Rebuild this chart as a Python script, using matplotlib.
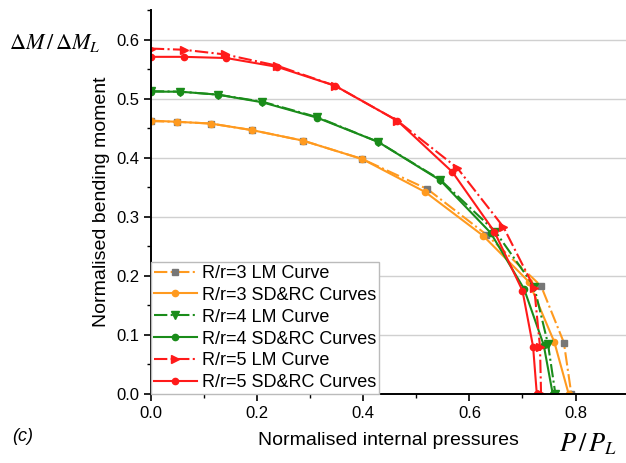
import matplotlib
matplotlib.use('Agg')
import matplotlib.pyplot as plt
from matplotlib.ticker import MultipleLocator

plt.rcParams['font.family'] = ['Liberation Sans', 'DejaVu Sans']
plt.rcParams['mathtext.fontset'] = 'stix'

# R/r = 3
r3_lm_x = [0.0, 0.049, 0.113, 0.19, 0.287, 0.398, 0.521, 0.632, 0.735, 0.778, 0.792]
r3_lm_y = [0.462, 0.461, 0.458, 0.447, 0.429, 0.398, 0.347, 0.27, 0.183, 0.087, 0.0]
r3_sd_x = [0.0, 0.049, 0.113, 0.19, 0.287, 0.398, 0.517, 0.626, 0.712, 0.76, 0.787]
r3_sd_y = [0.463, 0.461, 0.458, 0.447, 0.429, 0.398, 0.342, 0.268, 0.19, 0.088, 0.0]

# R/r = 4
r4_lm_x = [0.0, 0.055, 0.126, 0.21, 0.313, 0.428, 0.545, 0.649, 0.722, 0.748, 0.762]
r4_lm_y = [0.513, 0.512, 0.507, 0.495, 0.469, 0.427, 0.363, 0.275, 0.182, 0.085, 0.0]
r4_sd_x = [0.0, 0.055, 0.126, 0.21, 0.313, 0.428, 0.545, 0.64, 0.703, 0.74, 0.757]
r4_sd_y = [0.512, 0.512, 0.507, 0.494, 0.468, 0.427, 0.362, 0.273, 0.178, 0.083, 0.0]

# R/r = 5
r5_lm_x = [0.0, 0.062, 0.14, 0.238, 0.347, 0.464, 0.577, 0.664, 0.722, 0.733, 0.735]
r5_lm_y = [0.585, 0.583, 0.575, 0.556, 0.522, 0.463, 0.383, 0.283, 0.18, 0.08, 0.0]
r5_sd_x = [0.0, 0.062, 0.142, 0.238, 0.347, 0.464, 0.568, 0.647, 0.70, 0.72, 0.727]
r5_sd_y = [0.571, 0.571, 0.569, 0.554, 0.522, 0.463, 0.376, 0.275, 0.175, 0.08, 0.0]

orange = '#ff9a1f'
green = '#1a8c1a'
red = '#ff1a1a'

fig = plt.figure(figsize=(6.26, 4.63), dpi=100)
ax = fig.add_axes([0.241, 0.149, 0.759, 0.829])

ax.plot(r3_lm_x, r3_lm_y, color=orange, ls='-.', lw=1.5, marker='s', ms=4.5,
        mfc='#777777', mec='#777777', label='R/r=3 LM Curve')
ax.plot(r3_sd_x, r3_sd_y, color=orange, ls='-', lw=1.5, marker='o', ms=4.5,
        label='R/r=3 SD&RC Curves')
ax.plot(r4_lm_x, r4_lm_y, color=green, ls='-.', lw=1.5, marker='v', ms=5.5,
        label='R/r=4 LM Curve')
ax.plot(r4_sd_x, r4_sd_y, color=green, ls='-', lw=1.5, marker='o', ms=4.5,
        label='R/r=4 SD&RC Curves')
ax.plot(r5_lm_x, r5_lm_y, color=red, ls='-.', lw=1.5, marker='>', ms=5.5,
        label='R/r=5 LM Curve')
ax.plot(r5_sd_x, r5_sd_y, color=red, ls='-', lw=1.5, marker='o', ms=4.5,
        label='R/r=5 SD&RC Curves')

ax.set_xlim(0, 0.895)
ax.set_ylim(0, 0.65)
ax.xaxis.set_major_locator(MultipleLocator(0.2))
ax.xaxis.set_minor_locator(MultipleLocator(0.1))
ax.yaxis.set_major_locator(MultipleLocator(0.1))
ax.yaxis.set_minor_locator(MultipleLocator(0.05))
ax.tick_params(which='major', direction='out', length=5, width=1.2, labelsize=12)
ax.tick_params(which='minor', direction='out', length=3, width=1.0)
ax.grid(axis='y', color='#d0d0d0', lw=1.0)
ax.set_axisbelow(True)
for s in ['top', 'right']:
    ax.spines[s].set_visible(False)
for s in ['left', 'bottom']:
    ax.spines[s].set_linewidth(1.4)

ax.set_ylabel('Normalised bending moment', fontsize=14, labelpad=4)
ax.set_xlabel('Normalised internal pressures', fontsize=14, labelpad=8)

fig.text(0.015, 0.907, r'$\Delta M\,/\,\Delta M_L$', fontsize=16, ha='left', va='center')
fig.text(0.893, 0.04, r'$P\,/\,P_L$', fontsize=19, ha='left', va='center')
fig.text(0.02, 0.057, '(c)', fontsize=13, style='italic', ha='left', va='center')

leg = ax.legend(loc='lower left', bbox_to_anchor=(0, 0), borderaxespad=0,
                fontsize=13, handlelength=2.4, labelspacing=0.27,
                fancybox=False, edgecolor='#bbbbbb', framealpha=1,
                handletextpad=0.3, borderpad=0.15)
leg.get_frame().set_linewidth(1.0)

fig.savefig('out.png', dpi=100)
